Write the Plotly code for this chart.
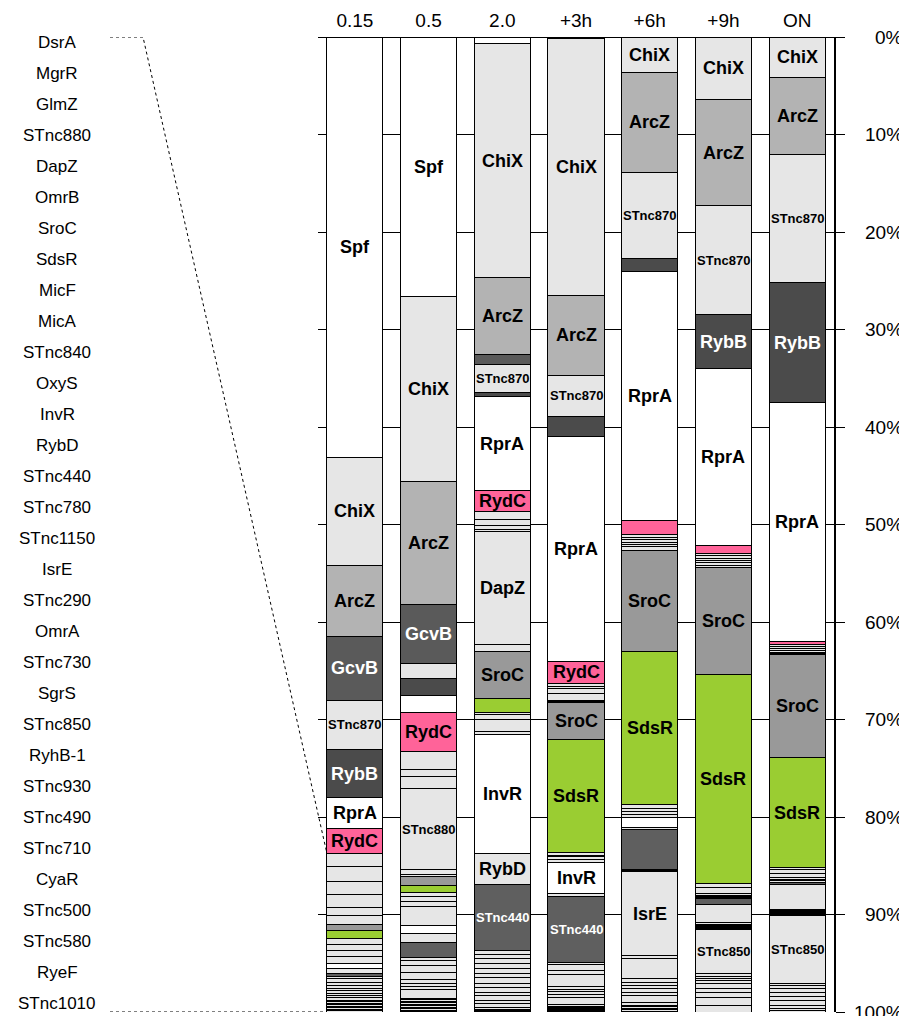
import numpy as np
import plotly.graph_objects as go

conditions = ['0.15', '0.5', '2.0', '+3h', '+6h', '+9h', 'ON']

srna_order = ['Spf', 'ChiX', 'ArcZ', 'GcvB', 'STnc870', 'RybB', 'RprA', 'RydC',
              'DsrA', 'MgrR', 'GlmZ', 'STnc880', 'DapZ', 'OmrB', 'SroC', 'SdsR',
              'MicF', 'MicA', 'STnc840', 'OxyS', 'InvR', 'RybD', 'STnc440', 'STnc780',
              'STnc1150', 'IsrE', 'STnc290', 'OmrA', 'STnc730', 'SgrS', 'STnc850',
              'RyhB-1', 'STnc930', 'STnc490', 'STnc710', 'CyaR', 'STnc500', 'STnc580',
              'RyeF', 'STnc1010']

# percent of reads per sRNA, in srna_order (None = absent)
vals_015 = [43.1, 11.1, 7.3, 6.5, 5.1, 4.9, 3.2, 2.5,
            1.4, 1.5, 1.3, 1.4, 0.8, 0.9, 0.6, 0.9,
            0.6, 0.6, 0.6, 0.7, 0.5, 0.5, 0.4, 0.2,
            0.4, 0.3, 0.3, 0.2, 0.3, 0.2, 0.2,
            0.3, 0.15, 0.15, 0.15, 0.15, 0.15, 0.15, 0.15, 0.15]
vals_05 = [26.6, 19.0, 12.6, 6.1, 1.5, 1.7, 1.8, 4.0,
           1.8, 0.7, 1.3, 8.3, 0.5, 0.2, 0.9, 0.7,
           0.5, 0.5, 0.5, 1.9, 0.8, 1.0, 1.5, 0.3,
           0.5, 0.7, 0.8, 0.4, 0.3, 0.3, 0.9,
           0.15, 0.15, 0.15, 0.15, 0.15, 0.15, 0.15, 0.15, 0.15]
vals_20 = [0.7, 24.0, 7.9, 1.0, 2.9, 0.4, 9.6, 2.2,
           0.8, 0.6, 0.4, 0.2, 11.6, 0.7, 4.8, 1.5,
           0.2, 0.5, 1.2, 0.3, 12.2, 3.2, 6.8, 0.4,
           0.4, 0.5, 0.5, 0.6, 0.4, 0.6, 0.4,
           0.5, 0.3, 0.5, 0.3, 0.4, 0.2, 0.1, 0.1, 0.1]
vals_3h = [0.2, 26.3, 8.2, None, 4.2, 2.1, 23.0, 2.3,
           0.3, 0.2, 0.5, 0.7, 0.2, 0.1, 3.7, 11.6,
           0.3, 0.2, 0.3, 0.3, 3.1, 0.4, 6.7, 0.2,
           0.6, 0.5, 1.2, 0.3, 0.2, 0.3, 0.3,
           0.7, 0.2, 0.1, 0.1, 0.1, 0.1, 0.1, 0.1, 0.1]
vals_6h = [None, 3.6, 10.3, None, 8.8, 1.4, 25.5, 1.4,
           0.3, 0.2, 0.3, 0.2, 0.3, 0.4, 10.3, 15.7,
           0.4, 0.3, 0.3, 0.3, 1.1, 0.2, 4.1, 0.1,
           0.1, 8.6, 0.3, 2.1, 0.4, 0.3, 0.3,
           0.4, 0.3, 0.7, 0.3, 0.1, 0.2, 0.1, 0.2, 0.1]
vals_9h = [None, 6.4, 10.9, None, 11.2, 5.5, 18.2, 0.8,
           0.2, 0.3, 0.2, 0.2, 0.3, 0.2, 11.0, 21.4,
           0.4, 0.6, 0.2, 0.2, 0.1, 0.1, 0.6, 1.8,
           0.2, 0.1, 0.1, 0.1, 0.1, 0.1, 4.6,
           0.3, 0.2, 0.2, 0.3, 0.5, 0.4, 0.5, 0.8, 0.7]
vals_on = [None, 4.2, 7.8, None, 13.2, 12.3, 24.5, 0.3,
           0.2, 0.2, 0.2, 0.2, 0.1, 0.1, 10.6, 11.3,
           0.2, 0.4, 0.4, 0.2, 0.1, 0.2, 0.2, 2.6,
           0.1, 0.1, 0.1, 0.1, 0.1, 0.1, 7.0,
           0.2, 0.3, 0.4, 0.4, 0.4, 0.5, 0.3, 0.2, 0.2]

columns = [vals_015, vals_05, vals_20, vals_3h, vals_6h, vals_9h, vals_on]

# labelled segments per condition
labels_015 = ['Spf', 'ChiX', 'ArcZ', 'GcvB', 'STnc870', 'RybB', 'RprA', 'RydC']
labels_05 = ['Spf', 'ChiX', 'ArcZ', 'GcvB', 'RydC', 'STnc880']
labels_20 = ['ChiX', 'ArcZ', 'STnc870', 'RprA', 'RydC', 'DapZ', 'SroC', 'InvR', 'RybD', 'STnc440']
labels_3h = ['ChiX', 'ArcZ', 'STnc870', 'RprA', 'RydC', 'SroC', 'SdsR', 'InvR', 'STnc440']
labels_6h = ['ChiX', 'ArcZ', 'STnc870', 'RprA', 'SroC', 'SdsR', 'IsrE']
labels_9h = ['ChiX', 'ArcZ', 'STnc870', 'RybB', 'RprA', 'SroC', 'SdsR', 'STnc850']
labels_on = ['ChiX', 'ArcZ', 'STnc870', 'RybB', 'RprA', 'SroC', 'SdsR', 'STnc850']
column_labels = [labels_015, labels_05, labels_20, labels_3h, labels_6h, labels_9h, labels_on]

pct_ticks = list(range(0, 101, 10))

colors = {'Spf': '#ffffff', 'ChiX': '#e6e6e6', 'ArcZ': '#b3b3b3', 'GcvB': '#5a5a5a',
          'STnc870': '#e6e6e6', 'RybB': '#4b4b4b', 'RprA': '#ffffff', 'RydC': '#ff6399',
          'SroC': '#999999', 'SdsR': '#9acd32', 'InvR': '#ffffff', 'STnc440': '#5f5f5f'}
white_text = {'GcvB', 'RybB', 'STnc440'}
FONT = 'Liberation Sans'

# page geometry (the page body adds an 8 px offset)
OFF = 8
W, H = 907 - OFF, 1016 - OFF
PL, PR = 318, 834          # plot area left / right in screen px
xpos = list(range(len(conditions)))


def paper_x(px):
    return (px - PL) / (PR - PL)


fig = go.Figure()
for k, name in enumerate(srna_order):
    fig.add_trace(go.Bar(
        x=xpos, y=[col[k] for col in columns], name=name,
        marker=dict(color=colors.get(name, '#e6e6e6'), line=dict(color='black', width=1)),
        showlegend=False, hoverinfo='y+name'))

annotations = []
for xi, col, labs in zip(xpos, columns, column_labels):
    cum = 0.0
    for name, v in zip(srna_order, col):
        if v is None:
            continue
        if name in labs:
            small = name.startswith('STnc')
            annotations.append(dict(
                x=xi, y=cum + v / 2, xref='x', yref='y', text=name, showarrow=False,
                font=dict(family=FONT, size=13 if small else 18, weight='bold',
                          color='white' if name in white_text else 'black')))
        cum += v

# right axis tick labels (right aligned)
for t in pct_ticks:
    annotations.append(dict(x=1, xref='paper', xanchor='right', xshift=71, y=t, yref='y',
                            text=f'{t}%', showarrow=False,
                            font=dict(family=FONT, size=19, color='black')))

# side list of minor sRNAs (order of the tail of the first column)
side_names = srna_order[8:]
side_y = np.linspace(0.6, 99.1, len(side_names))
for name, yy in zip(side_names, side_y):
    annotations.append(dict(x=paper_x(57), xref='paper', xanchor='center', y=yy, yref='y',
                            text=name, showarrow=False,
                            font=dict(family=FONT, size=17, color='black')))

# dotted zoom lines to first column tail
bargap = 0.24
ncat = len(conditions)
col1_left = (0.5 - (1 - bargap) / 2) / ncat
tail_top = sum(v for v in vals_015[:8])
x_list = paper_x(110)
x_bend = paper_x(143)
shapes = [
    dict(type='path', xref='paper', yref='y',
         path=f'M {x_list},0 L {x_bend},0 L {col1_left},{tail_top}',
         line=dict(color='black', width=1, dash='dot')),
    dict(type='line', xref='paper', yref='y', x0=x_list, x1=col1_left, y0=100, y1=100,
         line=dict(color='black', width=1, dash='dot')),
]

fig.update_layout(
    width=W, height=H,
    margin=dict(l=PL - OFF, r=OFF + W - PR, t=37 - OFF, b=OFF + H - 1012, autoexpand=False),
    barmode='stack', bargap=bargap, plot_bgcolor='white', paper_bgcolor='white',
    showlegend=False, font=dict(family=FONT, color='black'),
    annotations=annotations, shapes=shapes)
fig.update_xaxes(side='top', tickmode='array', tickvals=xpos, ticktext=conditions,
                 showgrid=False, ticks='', tickfont=dict(family=FONT, size=19, color='black'),
                 ticklabelstandoff=5,
                 showline=False, range=[-0.5, 6.5], automargin=False, zeroline=False)
fig.update_yaxes(range=[100, 0], side='right', showgrid=True, gridcolor='black', gridwidth=1,
                 tick0=0, dtick=10, zeroline=True, zerolinecolor='black', zerolinewidth=1,
                 showline=True, linecolor='black', linewidth=1.5, ticks='outside', ticklen=9,
                 tickcolor='black', showticklabels=False, automargin=False)

fig.write_html('out.html')
